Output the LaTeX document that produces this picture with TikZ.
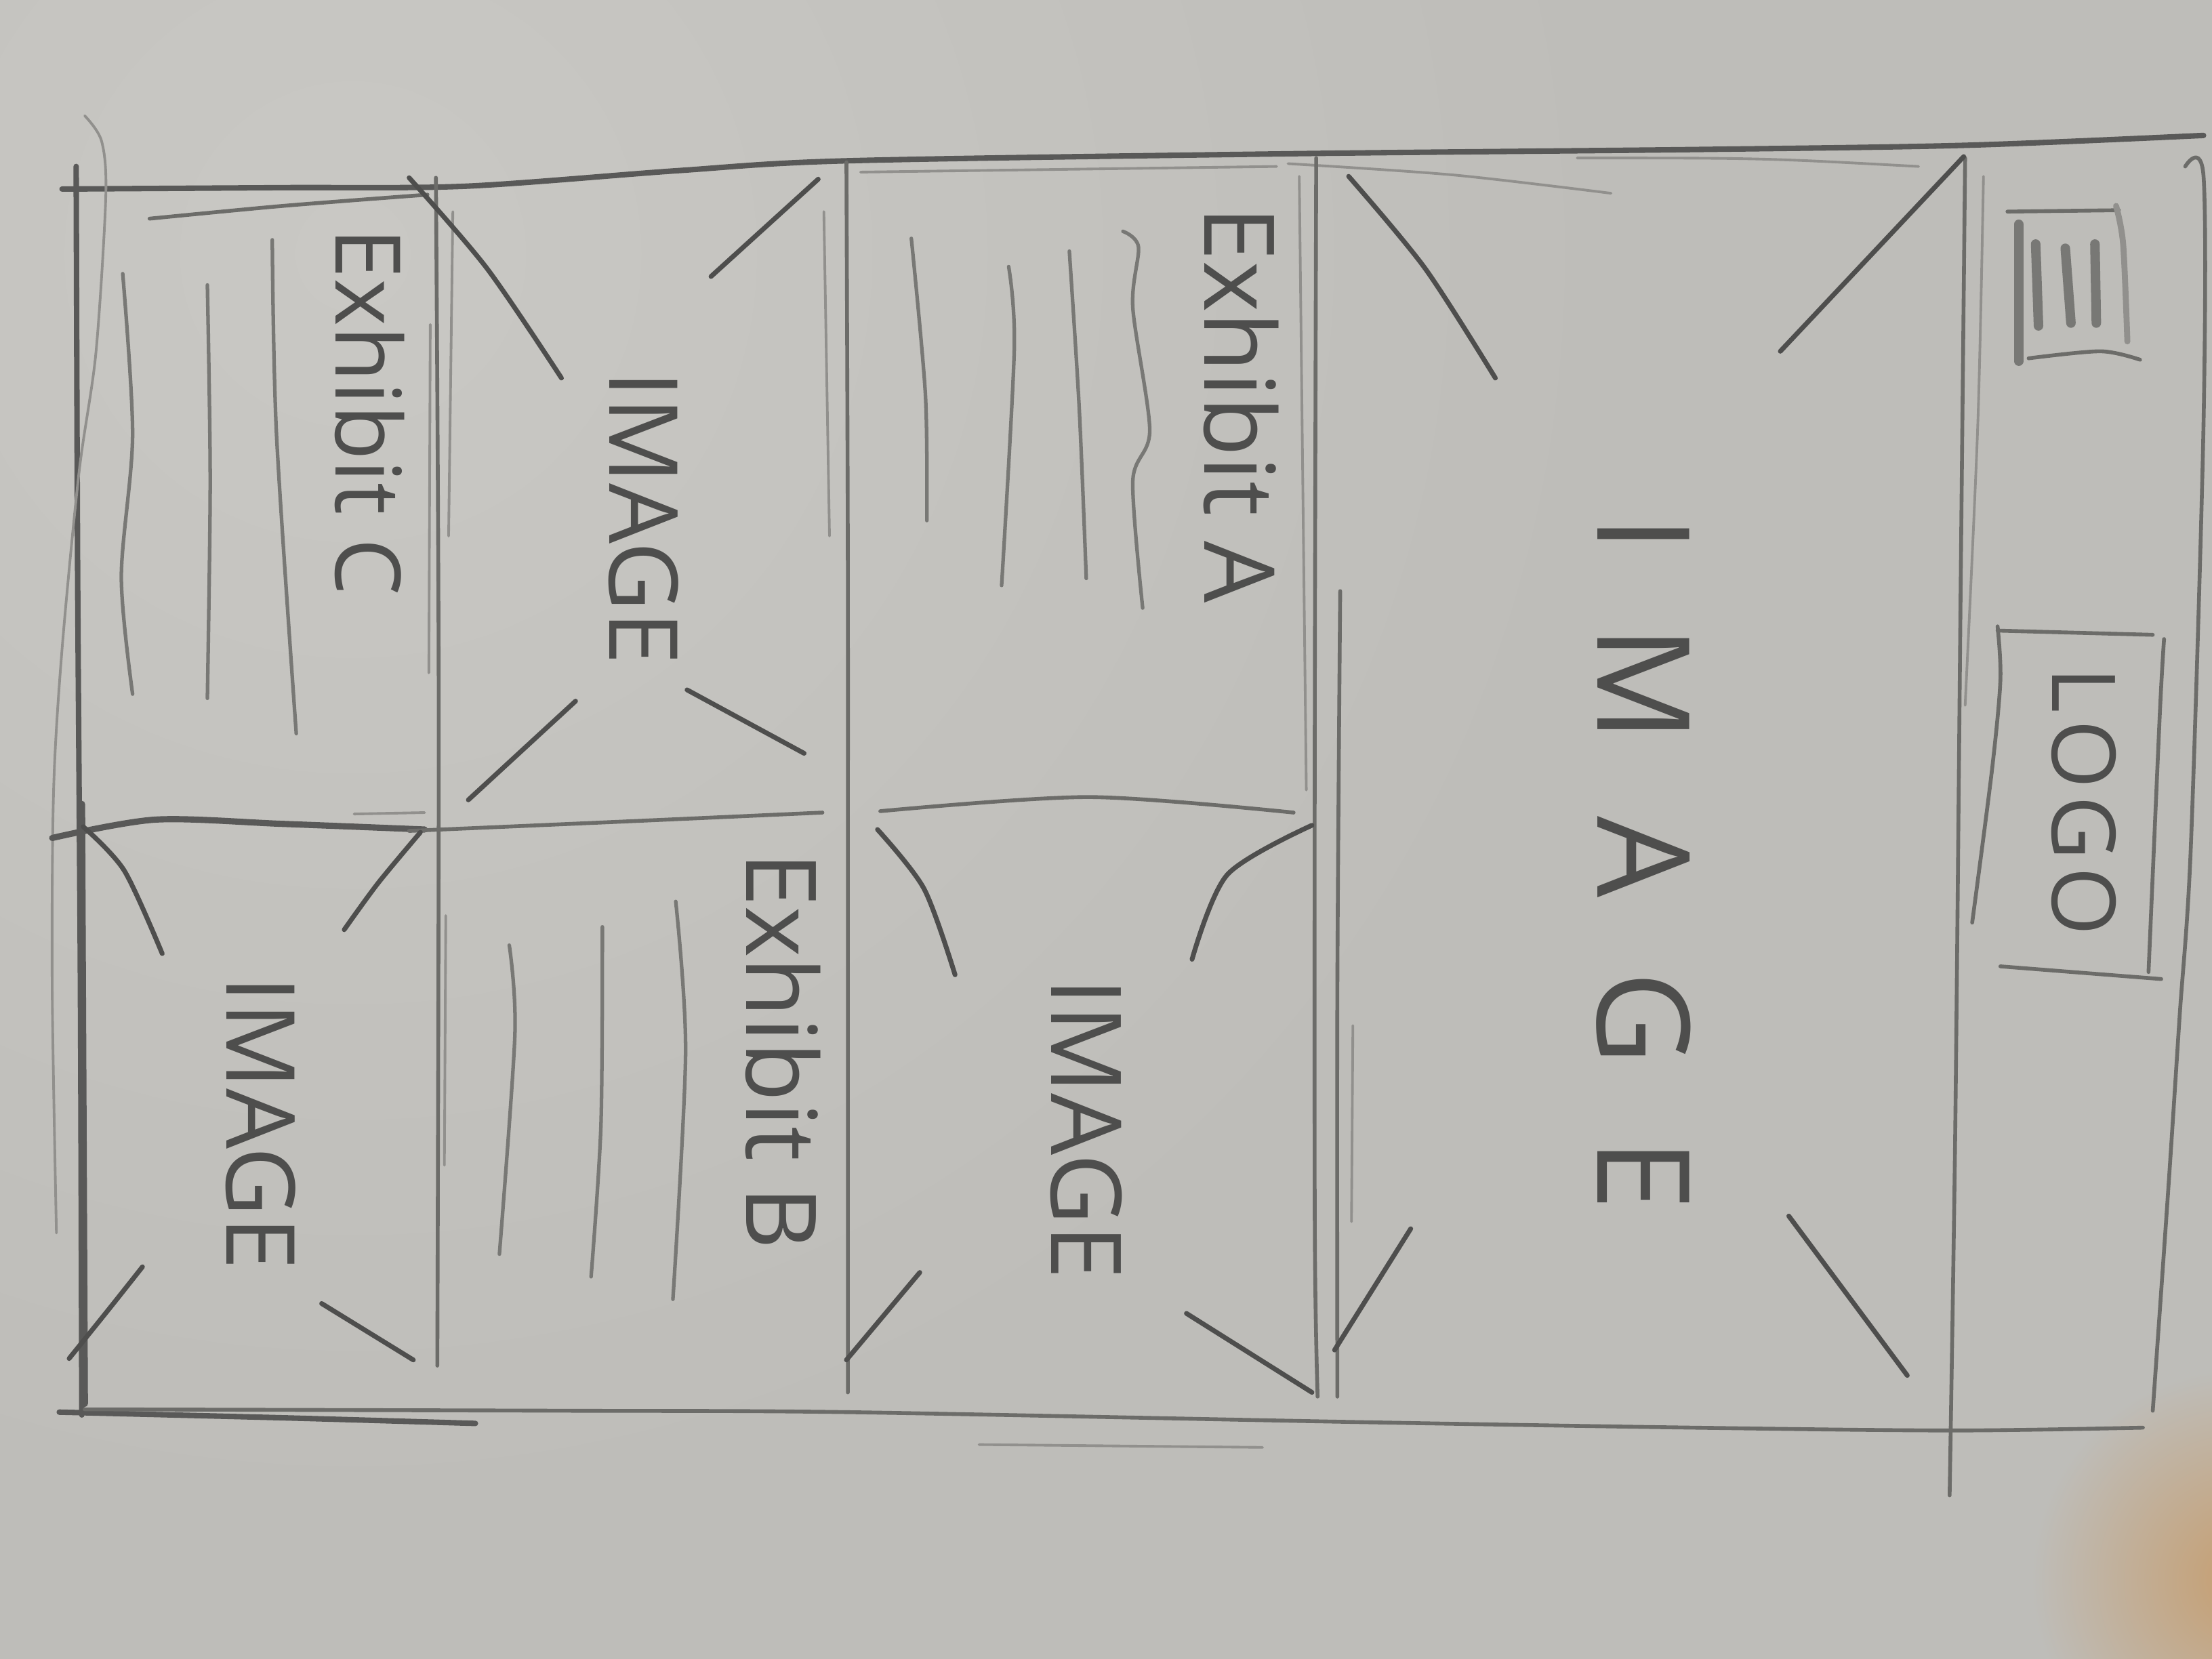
\documentclass[tikz,border=0pt]{standalone}
\usepackage{fontspec}
\setmainfont{Open Sans}
\definecolor{paper}{RGB}{190,189,185}
\definecolor{glow}{RGB}{201,200,196}
\definecolor{warm}{RGB}{198,158,112}
\definecolor{lead}{RGB}{108,108,105}
\definecolor{leaddark}{RGB}{78,78,77}
\begin{document}
\begin{tikzpicture}[x={(0.020816cm,0)}, y={(0,-0.020816cm)},
  line cap=round, line join=round,
  heavy/.style={draw=leaddark!90!paper, line width=2.3pt},
  medium/.style={draw=lead, line width=1.6pt},
  faint/.style={draw=lead!55!paper, line width=1.1pt},
  tick/.style={draw=leaddark, line width=2pt},
  textline/.style={draw=lead!85!paper, line width=1.5pt},
  bar/.style={draw=lead!85!paper, line width=4pt},
  sketchlabel/.style={text=leaddark, rotate=-90, inner sep=0pt},
]
% paper
\useasboundingbox (0,0) rectangle (1568,1176);
\fill[paper] (0,0) rectangle (1568,1176);
\begin{scope}
  \clip (0,0) rectangle (1568,1176);
  \shade[inner color=glow, outer color=paper] (250,180) circle[radius=900];
  \shade[inner color=warm, outer color=paper] (1590,1120) circle[radius=150];
\end{scope}

% ---- outer frame ----
\draw[heavy] plot[smooth] coordinates {(44,134) (200,133) (330,132) (480,121) (600,114) (913,109) (1200,106) (1393,103) (1562,96)};
\draw[medium] plot[smooth] coordinates {(106,155) (200,146) (303,138)};
\draw[faint] (610,122) -- (905,118);
\draw[faint] plot[smooth] coordinates {(913,116) (1030,124) (1142,137)};
\draw[faint] (1118,112) .. controls (1250,112) .. (1360,118);
% left edge
\draw[heavy] plot[smooth] coordinates {(54,118) (55,400) (57,700) (58,1003)};
\draw[heavy, line width=2.8pt] (58,570) -- (60,995);
\draw[faint] plot[smooth] coordinates {(60,82) (72,100) (75,139) (68,250) (56,335) (44,460) (38,560) (37,700) (40,874)};
% bottom edge
\draw[heavy] plot[smooth] coordinates {(42,1001) (200,1005) (337,1009)};
\draw[medium] plot[smooth] coordinates {(60,999) (400,1000) (600,1001) (960,1008) (1200,1012) (1385,1014) (1519,1012)};
\draw[faint] (694,1024) -- (895,1026);
% right edge
\draw[medium] plot[smooth] coordinates {(1549,118) (1562,125) (1562,300) (1553,600) (1545,721) (1537,843) (1526,1000)};

% ---- header strip ----
\draw[medium] plot[smooth] coordinates {(1393,112) (1390,400) (1386,800) (1382,1060)};
\draw[faint] plot[smooth] coordinates {(1406,125) (1402,300) (1393,500)};
% menu icon
\draw[medium] (1423,150) -- (1502,149);
\draw[medium] plot[smooth] coordinates {(1438,254) (1489,249) (1517,255)};
\draw[bar] (1431,159) -- (1431,256);
\draw[bar] (1443,173) -- (1445,231);
\draw[bar] (1464,176) -- (1468,229);
\draw[bar] (1485,173) -- (1486,229);
\draw[faint, line width=2.5pt] plot[smooth] coordinates {(1500,146) (1505,173) (1508,242)};
% logo box
\draw[medium] (1416,447) -- (1526,450);
\draw[medium] (1418,685) -- (1532,694);
\draw[medium] plot[smooth] coordinates {(1416,444) (1418,482) (1412,546) (1398,654)};
\draw[medium] plot[smooth] coordinates {(1534,453) (1531,506) (1523,689)};
\node[sketchlabel, font=\fontsize{37}{37}\selectfont] (logo) at (1477,568) {L\hspace{3pt}O\hspace{3pt}G\hspace{3pt}O};

% ---- hero image ----
\draw[medium] plot[smooth] coordinates {(933,112) (932,500) (932,870) (934,990)};
\draw[medium] plot[smooth] coordinates {(950,419) (948,700) (948,990)};
\draw[faint] (921,125) -- (926,560);
\draw[faint] (959,727) -- (958,866);
\draw[tick] plot[smooth] coordinates {(956,125) (1010,190) (1060,268)};
\draw[tick] (1392,111) -- (1262,249);
\draw[tick] (1000,871) -- (946,957);
\draw[tick] (1268,862) -- (1352,975);
\node[sketchlabel, font=\fontsize{54}{54}\selectfont] (heroimage) at (1165,612) {I\hspace{31pt}M\hspace{31pt}A\hspace{31pt}G\hspace{31pt}E};

% ---- second column: Exhibit A over an image ----
\draw[medium] plot[smooth] coordinates {(600,115) (601,400) (601,700) (601,987)};
\draw[faint] (584,150) -- (588,380);
\node[sketchlabel, font=\fontsize{41}{41}\selectfont] (exhibita) at (880,287) {Exhibit A};
\draw[textline] plot[smooth] coordinates {(646,169) (656,280) (657,369)};
\draw[textline] plot[smooth] coordinates {(715,189) (719,247) (710,415)};
\draw[textline] plot[smooth] coordinates {(758,178) (765,289) (770,410)};
\draw[textline] plot[smooth] coordinates {(796,164) (807,175) (803,218) (815,305) (803,341) (810,431)};
\draw[medium] plot[smooth] coordinates {(624,575) (772,565) (917,576)};
\draw[tick] plot[smooth] coordinates {(622,588) (655,630) (677,691)};
\draw[tick] plot[smooth] coordinates {(930,585) (870,620) (845,680)};
\draw[tick] (652,902) -- (600,964);
\draw[tick] (841,931) -- (930,987);
\node[sketchlabel, font=\fontsize{41}{41}\selectfont] (imagea) at (770,800) {IMAGE};

% ---- third column: image over Exhibit B ----
\draw[medium] plot[smooth] coordinates {(309,126) (311,500) (310,968)};
\draw[faint] (321,150) -- (318,380);
\draw[faint] (305,230) -- (304,477);
\draw[faint] (316,649) -- (315,826);
\draw[heavy, line width=2.6pt] plot[smooth] coordinates {(37,594) (110,581) (200,584) (301,588)};
\draw[medium] plot[smooth] coordinates {(290,589) (450,582) (583,576)};
\draw[faint] (251,577) -- (301,576);
\draw[tick] plot[smooth] coordinates {(290,126) (345,190) (398,268)};
\draw[tick] (580,127) -- (504,196);
\draw[tick] (408,497) -- (332,567);
\draw[tick] (487,489) -- (570,534);
\node[sketchlabel, font=\fontsize{40}{40}\selectfont] (imageb) at (456,367) {IMAGE};
\node[sketchlabel, font=\fontsize{41}{41}\selectfont] (exhibitb) at (555,745) {Exhibit B};
\draw[textline] plot[smooth] coordinates {(361,670) (365,733) (354,889)};
\draw[textline] plot[smooth] coordinates {(427,657) (426,797) (419,905)};
\draw[textline] plot[smooth] coordinates {(479,639) (486,746) (477,921)};

% ---- fourth column: Exhibit C over an image ----
\node[sketchlabel, font=\fontsize{38}{38}\selectfont] (exhibitc) at (262,292) {Exhibit C};
\draw[textline] plot[smooth] coordinates {(87,194) (94,308) (86,409) (94,492)};
\draw[textline] plot[smooth] coordinates {(147,202) (149,341) (147,495)};
\draw[textline] plot[smooth] coordinates {(193,170) (196,308) (210,520)};
\draw[tick] plot[smooth] coordinates {(59,586) (88,617) (115,676)};
\draw[tick] plot[smooth] coordinates {(298,590) (268,626) (244,659)};
\draw[tick] plot[smooth] coordinates {(101,898) (78,927) (49,963)};
\draw[tick] (228,924) -- (293,964);
\node[sketchlabel, font=\fontsize{40}{40}\selectfont] (imagec) at (185,796) {IMAGE};
\end{tikzpicture}
\end{document}
